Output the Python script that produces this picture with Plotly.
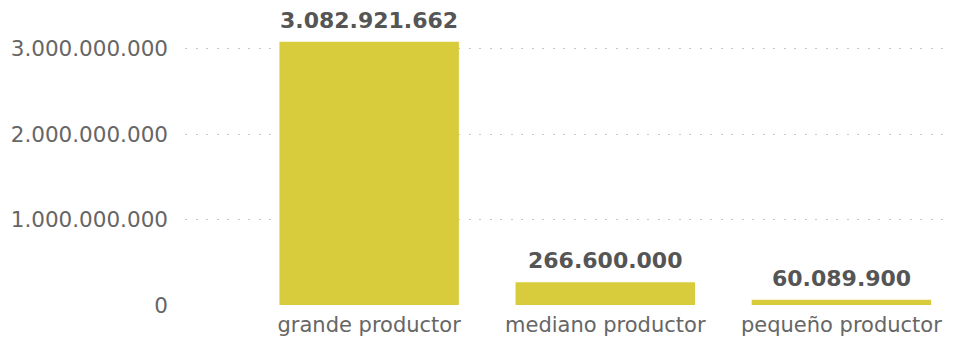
import plotly.graph_objects as go

BAR_COLOR = "#d9cc3c"
GRID_COLOR = "#c8c8c8"
TEXT_COLOR = "#666666"
LABEL_COLOR = "#555555"

categories = ["grande productor", "mediano productor", "pequeño productor"]
values = [3082921662, 266600000, 60089900]
tick_values = [0, 1000000000, 2000000000, 3000000000]

fig = go.Figure()
fig.add_trace(
    go.Bar(
        x=categories,
        y=values,
        width=0.76,
        marker=dict(color=BAR_COLOR, line=dict(width=0)),
        hoverinfo="skip",
    )
)

# value labels above the bars
for cat, val in zip(categories, values):
    fig.add_annotation(
        x=cat,
        y=val,
        text=f"{val:,}".replace(",", "."),
        showarrow=False,
        yanchor="bottom",
        yshift=7,
        font=dict(family="DejaVu Sans", size=22, color=LABEL_COLOR, weight="bold"),
    )

fig.update_layout(
    width=954,
    height=339,
    margin=dict(l=177, r=12, t=11, b=42),
    separators=",.",
    plot_bgcolor="white",
    paper_bgcolor="white",
    showlegend=False,
    font=dict(family="DejaVu Sans", size=21, color=TEXT_COLOR),
)
fig.update_xaxes(
    type="category",
    range=[-0.78, 2.46],
    showgrid=False,
    showline=False,
    ticks="",
    automargin=False,
    ticklabelstandoff=5,
    tickfont=dict(size=21, color=TEXT_COLOR),
)
fig.update_yaxes(
    range=[0, 3.35e9],
    tickvals=tick_values,
    tickformat=",d",
    showgrid=True,
    gridcolor=GRID_COLOR,
    griddash="2px,8.5px",
    gridwidth=1,
    zeroline=False,
    showline=False,
    automargin=False,
    ticklabelstandoff=16,
    tickfont=dict(size=21.5, color=TEXT_COLOR),
)

fig.write_html("out.html")
